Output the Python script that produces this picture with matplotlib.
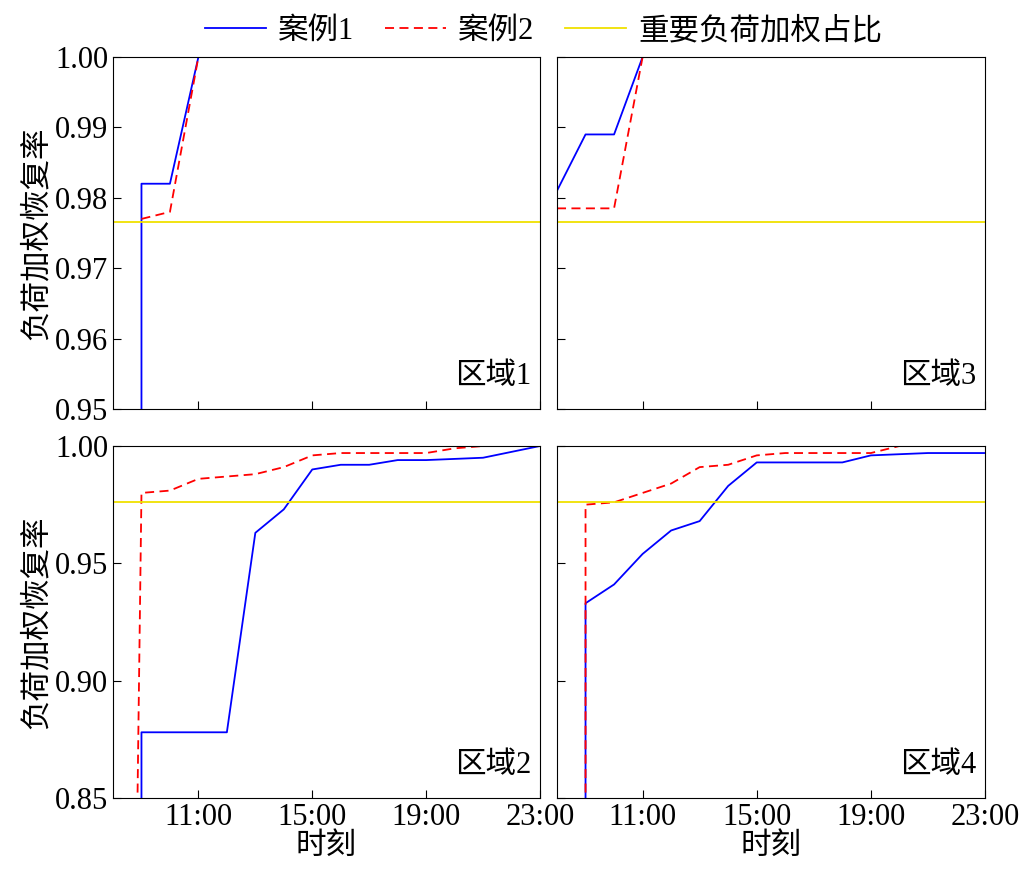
import matplotlib
matplotlib.use("Agg")
import matplotlib.pyplot as plt
plt.rcParams['font.family'] = ['Liberation Serif', 'Noto Sans CJK SC']
plt.rcParams['font.size'] = 22

xticks = [11, 15, 19, 23]
xlabels = ['11:00', '15:00', '19:00', '23:00']

# Region 1
r1_c1_x = [9, 9, 10, 11, 23]
r1_c1_y = [0.94, 0.982, 0.982, 1.0, 1.0]
r1_c2_x = [9, 10, 11, 23]
r1_c2_y = [0.977, 0.978, 1.0, 1.0]
r1_imp = 0.9765
# Region 3
r3_c1_x = [8, 9, 10, 11, 23]
r3_c1_y = [0.981, 0.989, 0.989, 1.0, 1.0]
r3_c2_x = [8, 10, 11, 23]
r3_c2_y = [0.9785, 0.9785, 1.0, 1.0]
r3_imp = 0.9765
# Region 2
r2_c1_x = [9, 9, 12, 13, 14, 15, 16, 17, 18, 19, 21, 23]
r2_c1_y = [0.84, 0.878, 0.878, 0.963, 0.973, 0.990, 0.992, 0.992, 0.994, 0.994, 0.995, 1.0]
r2_c2_x = [8.85, 9.0, 10, 11, 12, 13, 14, 15, 16, 17, 18, 19, 20, 21, 23]
r2_c2_y = [0.84, 0.980, 0.981, 0.986, 0.987, 0.988, 0.991, 0.996, 0.997, 0.997, 0.997, 0.997, 0.999, 1.0, 1.0]
r2_imp = 0.976
# Region 4
r4_c1_x = [9, 9, 10, 11, 12, 13, 14, 15, 16, 17, 18, 19, 21, 23]
r4_c1_y = [0.84, 0.933, 0.941, 0.954, 0.964, 0.968, 0.983, 0.993, 0.993, 0.993, 0.993, 0.996, 0.997, 0.997]
r4_c2_x = [9, 9, 10, 11, 12, 13, 14, 15, 16, 17, 18, 19, 20, 23]
r4_c2_y = [0.84, 0.975, 0.976, 0.980, 0.984, 0.991, 0.992, 0.996, 0.997, 0.997, 0.997, 0.997, 1.0, 1.0]
r4_imp = 0.976

fig = plt.figure(figsize=(10.26, 8.8), dpi=100)
W, H = 1026, 880
def ax_at(l, t, r, b):
    return fig.add_axes([l / W, 1 - b / H, (r - l) / W, (b - t) / H])

panels = [
    (ax_at(113, 57, 540, 409), r1_c1_x, r1_c1_y, r1_c2_x, r1_c2_y, r1_imp, '区域1', (0.95, 1.0), [0.95, 0.96, 0.97, 0.98, 0.99, 1.00], True, False),
    (ax_at(557, 57, 985, 409), r3_c1_x, r3_c1_y, r3_c2_x, r3_c2_y, r3_imp, '区域3', (0.95, 1.0), [0.95, 0.96, 0.97, 0.98, 0.99, 1.00], False, False),
    (ax_at(113, 446, 540, 798), r2_c1_x, r2_c1_y, r2_c2_x, r2_c2_y, r2_imp, '区域2', (0.85, 1.0), [0.85, 0.90, 0.95, 1.00], True, True),
    (ax_at(557, 446, 985, 798), r4_c1_x, r4_c1_y, r4_c2_x, r4_c2_y, r4_imp, '区域4', (0.85, 1.0), [0.85, 0.90, 0.95, 1.00], False, True),
]
for ax, x1, y1, x2, y2, imp, lab, ylim, yt, showy, showx in panels:
    l1, = ax.plot(x1, y1, color='blue', lw=1.3, label='案例1')
    l2, = ax.plot(x2, y2, color='red', lw=1.3, ls=(0, (5, 3)), label='案例2')
    l3 = ax.axhline(imp, color='#f0e000', lw=1.3, label='重要负荷加权占比')
    ax.set_xlim(8, 23)
    ax.set_ylim(*ylim)
    ax.set_xticks(xticks)
    ax.set_yticks(yt)
    ax.tick_params(direction='in', length=6, labelsize=22)
    if showy:
        ax.set_yticklabels([f'{v:.2f}' for v in yt])
        ax.set_ylabel('负荷加权恢复率', fontsize=22, labelpad=2)
    else:
        ax.set_yticklabels([])
    if showx:
        ax.set_xticklabels(xlabels)
        ax.set_xlabel('时刻', fontsize=22, labelpad=0)
    else:
        ax.set_xticklabels([])
    ax.text(0.98, 0.05, lab, transform=ax.transAxes, ha='right', va='bottom', fontsize=22)
    handles = [l1, l2, l3]

fig.legend(handles=handles, loc='upper center', bbox_to_anchor=(0.53, 1.012), ncol=3,
           frameon=False, fontsize=22, handlelength=2.0, handletextpad=0.4,
           columnspacing=1.0)
fig.savefig('out.png', dpi=100)
